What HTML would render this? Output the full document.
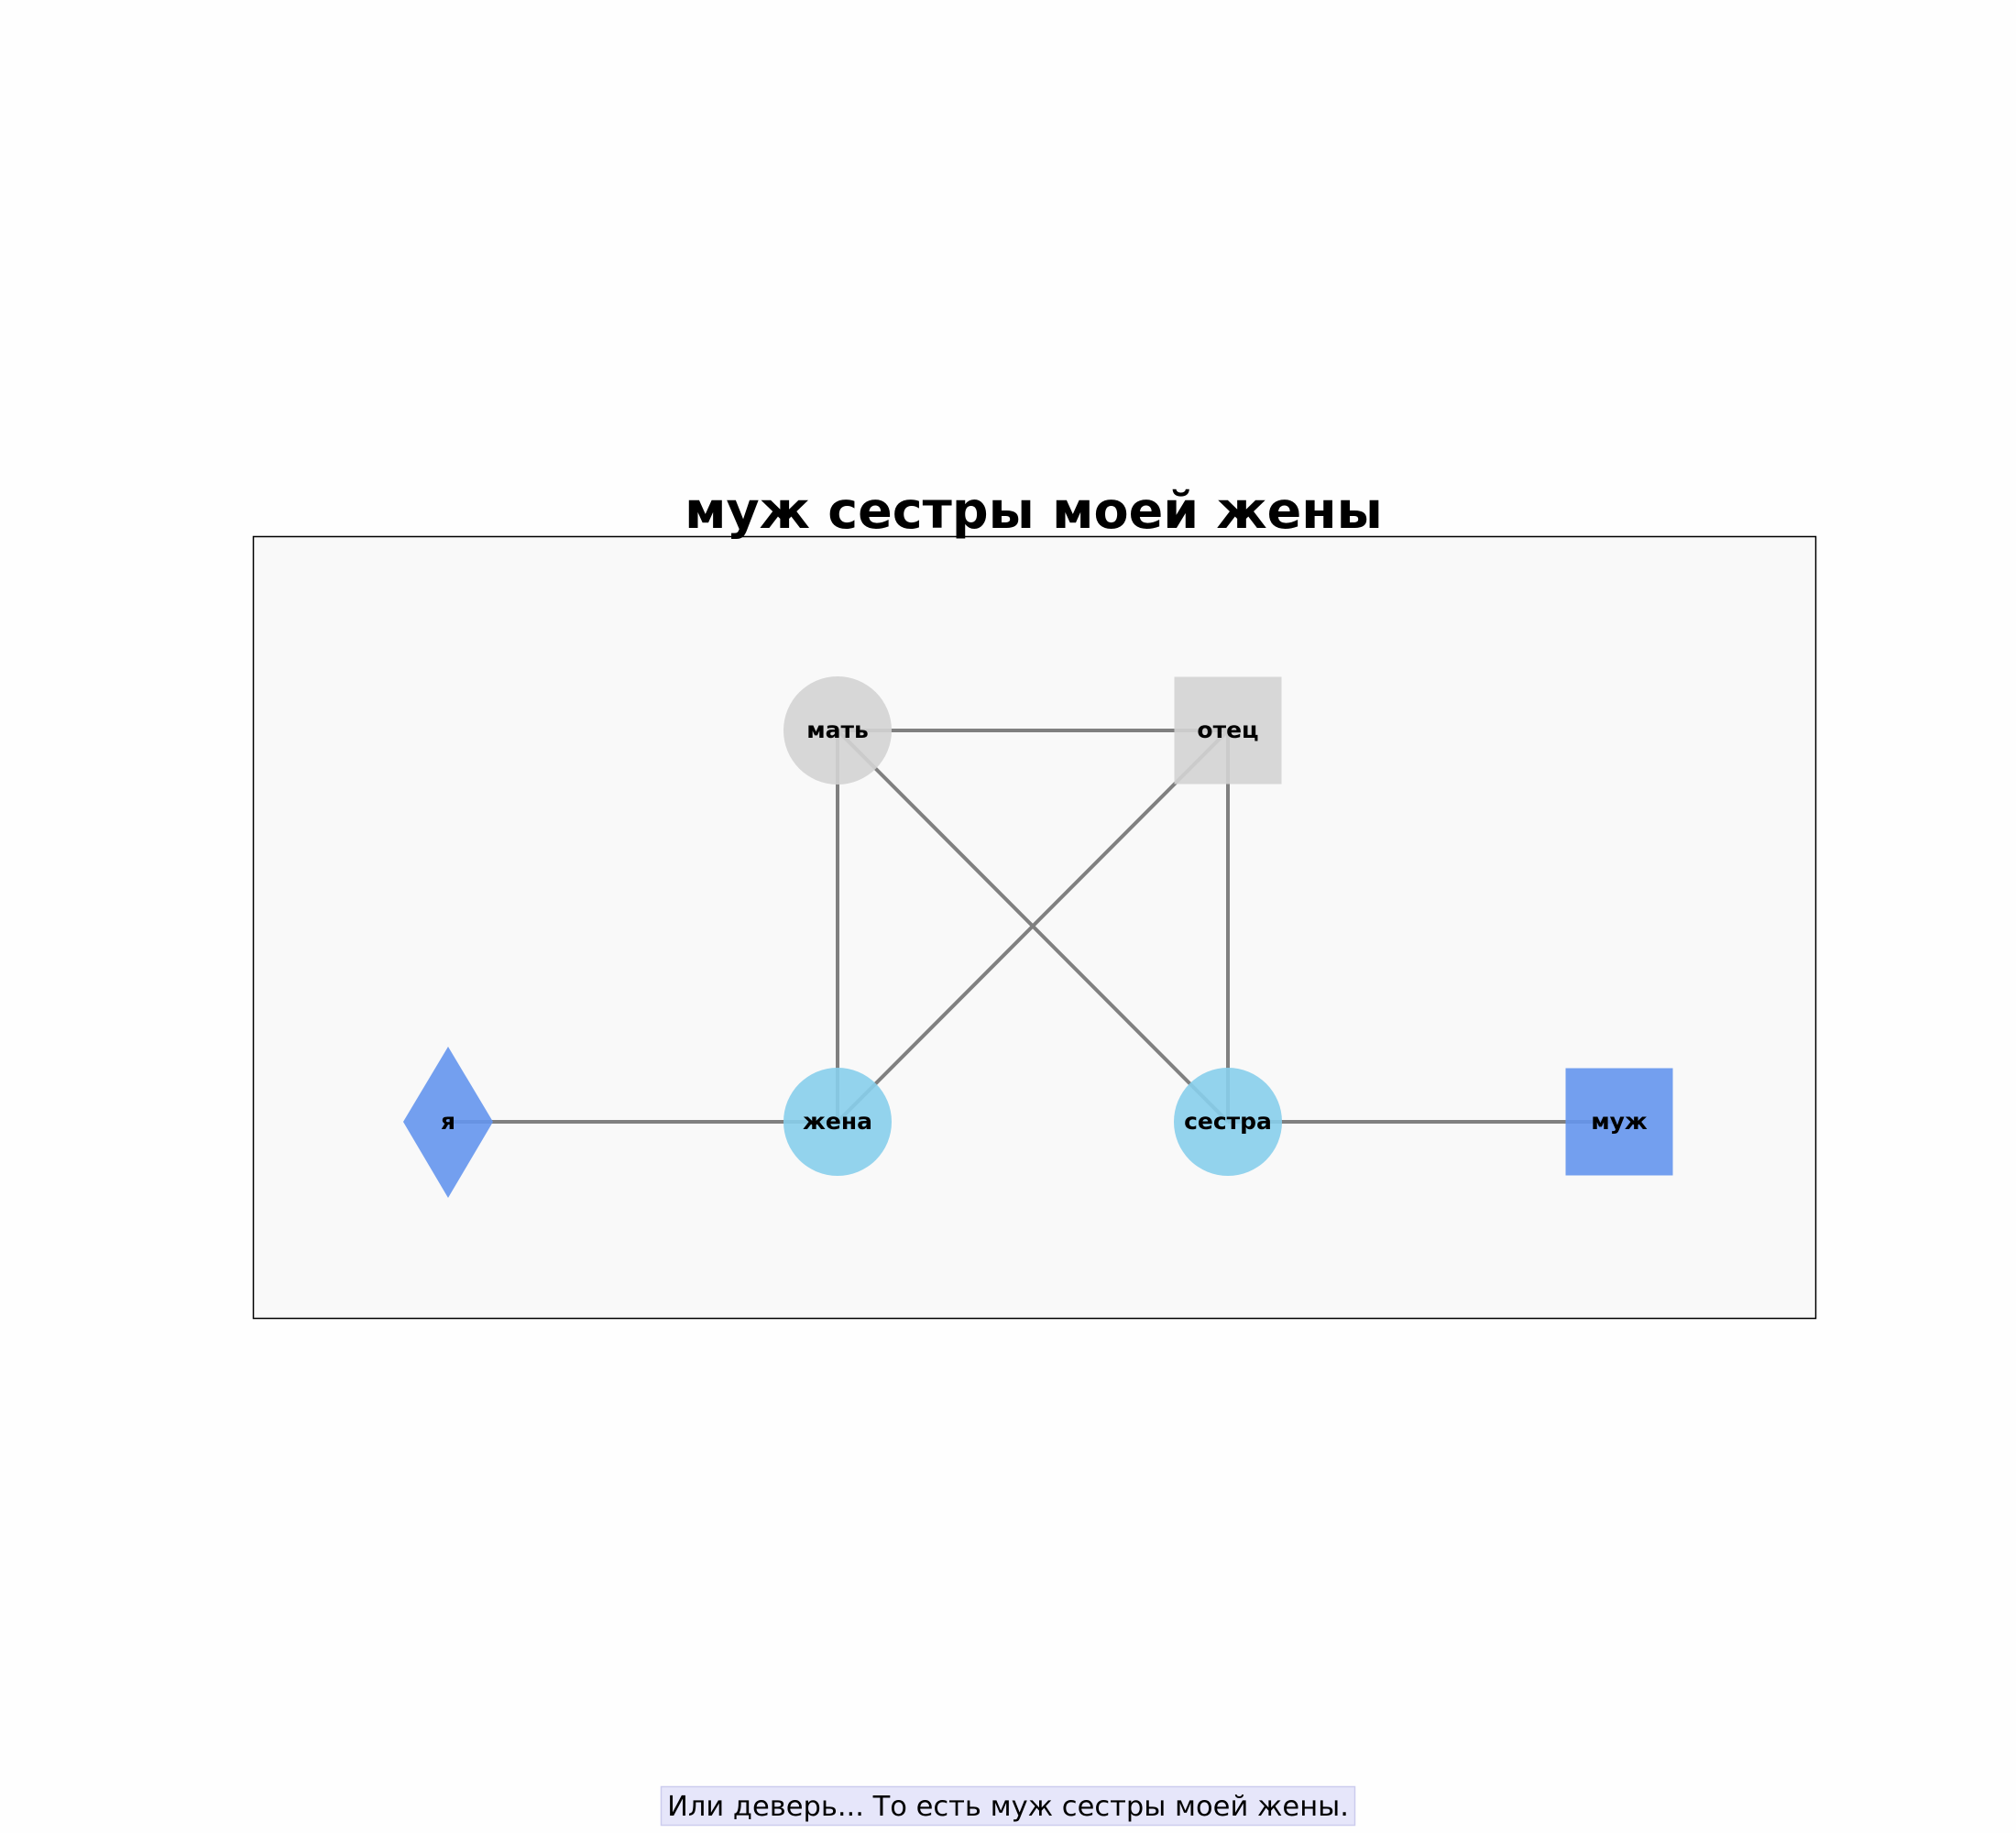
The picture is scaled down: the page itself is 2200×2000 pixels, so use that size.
<!DOCTYPE html>
<html><head><meta charset="utf-8"><style>
html,body{margin:0;padding:0;background:#fefefe;}
</style></head><body>
<svg width="2200" height="2000" xmlns="http://www.w3.org/2000/svg" style="display:block">
<rect x="0" y="0" width="2200" height="2000" fill="#fefefe"/>
<g transform="translate(1,2)">
<rect x="275.5" y="583.5" width="1705" height="853" fill="#f9f9f9" stroke="#000" stroke-width="1.5"/>
<g stroke="#808080" stroke-width="4" fill="none">
<line x1="488" y1="1222" x2="913" y2="1222"/>
<line x1="913" y1="795" x2="1339" y2="795"/>
<line x1="913" y1="795" x2="913" y2="1222"/>
<line x1="1339" y1="795" x2="1339" y2="1222"/>
<line x1="913" y1="795" x2="1339" y2="1222"/>
<line x1="1339" y1="795" x2="913" y2="1222"/>
<line x1="1339" y1="1222" x2="1766" y2="1222"/>
</g>
<g opacity="0.9">
<circle cx="913" cy="795" r="59" fill="#d3d3d3"/>
<rect x="1280.5" y="736.5" width="117" height="117" fill="#d3d3d3"/>
<circle cx="913" cy="1222" r="59" fill="#87ceeb"/>
<circle cx="1339" cy="1222" r="59" fill="#87ceeb"/>
<rect x="1707.5" y="1163.5" width="117" height="117" fill="#6495ed"/>
<polygon points="488,1140 537,1222 488,1305 439,1222" fill="#6495ed"/>
</g>
<g font-family="DejaVu Sans, Liberation Sans, sans-serif" font-weight="bold" font-size="25" text-anchor="middle">
<text x="913" y="803">мать</text>
<text x="1339" y="803">отец</text>
<text x="913" y="1230">жена</text>
<text x="1339" y="1230">сестра</text>
<text x="1766" y="1230">муж</text>
<text x="488" y="1230">я</text>
</g>
</g>
<text x="1128" y="576" text-anchor="middle" font-family="DejaVu Sans, Liberation Sans, sans-serif" font-weight="bold" font-size="55.5">муж сестры моей жены</text>
<rect x="721.5" y="1949.5" width="757" height="42" fill="#e6e6fa" stroke="#ccccee" stroke-width="1.5"/>
<text x="1100" y="1981" text-anchor="middle" font-family="DejaVu Sans, Liberation Sans, sans-serif" font-size="30.5">Или деверь... То есть муж сестры моей жены.</text>
</svg>
</body></html>
